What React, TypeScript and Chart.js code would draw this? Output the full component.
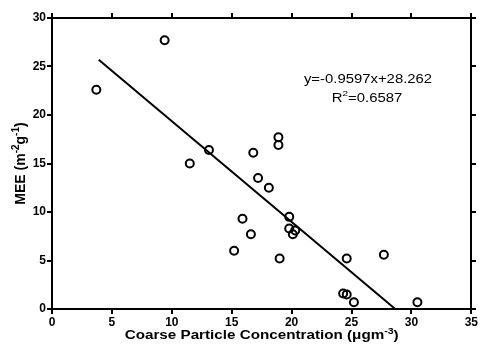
import React, { useEffect, useRef } from "react";
import { Chart, registerables } from "chart.js";

Chart.register(...registerables);

// Data
const concX: number[] = [3.7, 9.4, 11.5, 13.1, 15.2, 15.9, 16.6, 16.8, 17.2, 18.1, 18.9, 18.9, 19.0, 19.8, 19.8, 20.1, 20.3, 24.3, 24.6, 24.6, 25.2, 27.7, 30.5];
const meeY: number[] = [22.6, 27.7, 15.0, 16.4, 6.0, 9.3, 7.7, 16.1, 13.5, 12.5, 17.7, 16.9, 5.2, 9.5, 8.3, 7.7, 8.1, 1.6, 1.5, 5.2, 0.7, 5.6, 0.7];
const fitX: number[] = [3.9, 28.65];
const fitY: number[] = [25.7, 0];
const xRange = { min: 0, max: 35, step: 5 };
const yRange = { min: 0, max: 30, step: 5 };

type Seg = { t: string; sup?: boolean };
const xTitle: Seg[] = [{ t: "Coarse Particle Concentration (\u03BCgm" }, { t: "-3", sup: true }, { t: ")" }];
const yTitle: Seg[] = [{ t: "MEE (m" }, { t: "-2", sup: true }, { t: "g" }, { t: "-1", sup: true }, { t: ")" }];
const eqLine1: Seg[] = [{ t: "y=-0.9597x+28.262" }];
const eqLine2: Seg[] = [{ t: "R" }, { t: "2", sup: true }, { t: "=0.6587" }];

const FAM = '"Liberation Sans", Arial, sans-serif';

Chart.defaults.font.family = FAM;
Chart.defaults.font.size = 12;
Chart.defaults.font.weight = "bold" as any;
Chart.defaults.color = "#000";

function drawRich(
  ctx: CanvasRenderingContext2D,
  segs: Seg[],
  cx: number,
  baseline: number,
  size: number,
  weight: string,
  sx: number,
  sy: number,
  rot: number
) {
  ctx.save();
  ctx.translate(cx, baseline);
  if (rot) ctx.rotate(rot);
  ctx.scale(sx, sy);
  const fontFor = (sup?: boolean) => `${weight} ${sup ? Math.round(size * 0.68) : size}px ${FAM}`;
  let total = 0;
  segs.forEach((s) => {
    ctx.font = fontFor(s.sup);
    total += ctx.measureText(s.t).width;
  });
  let x = -total / 2;
  ctx.fillStyle = "#000";
  ctx.textAlign = "left";
  ctx.textBaseline = "alphabetic";
  segs.forEach((s) => {
    ctx.font = fontFor(s.sup);
    ctx.fillText(s.t, x, s.sup ? -size * 0.42 : 0);
    x += ctx.measureText(s.t).width;
  });
  ctx.restore();
}

const TICK_LEN = 4;

// Frame and outward tick marks, placed from the library's own scales (drawn as filled bars)
const framePlugin = {
  id: "frameTicks",
  afterDraw(chart: any) {
    const ctx = chart.ctx as CanvasRenderingContext2D;
    const a = chart.chartArea;
    const L = Math.round(a.left), R = Math.round(a.right), T = Math.round(a.top), B = Math.round(a.bottom);
    ctx.save();
    ctx.setTransform(1, 0, 0, 1, 0, 0);
    ctx.globalAlpha = 1;
    ctx.globalCompositeOperation = "source-over";
    ctx.fillStyle = "#000000";
    ctx.fillRect(L - 1, T - 1, 2, B - T + 2);
    ctx.fillRect(R - 1, T - 1, 2, B - T + 2);
    ctx.fillRect(L - 1, T - 1, R - L + 2, 2);
    ctx.fillRect(L - 1, B - 1, R - L + 2, 2);
    const sides: [string, string][] = [["x", "bottom"], ["x2", "top"], ["y", "left"], ["y2", "right"]];
    sides.forEach(([id, side]) => {
      const sc = chart.scales[id];
      if (!sc) return;
      sc.ticks.forEach((t: any) => {
        const p = Math.round(sc.getPixelForValue(t.value));
        if (side === "bottom") ctx.fillRect(p - 1, B, 2, TICK_LEN + 1);
        if (side === "top") ctx.fillRect(p - 1, T - TICK_LEN - 1, 2, TICK_LEN + 1);
        if (side === "left") ctx.fillRect(L - TICK_LEN - 1, p - 1, TICK_LEN + 1, 2);
        if (side === "right") ctx.fillRect(R, p - 1, TICK_LEN + 1, 2);
      });
    });
    ctx.restore();
  },
};

const textPlugin = {
  id: "richText",
  afterDraw(chart: any) {
    const ctx = chart.ctx as CanvasRenderingContext2D;
    const a = chart.chartArea;
    drawRich(ctx, xTitle, (a.left + a.right) / 2, 339, 13, "bold", 1.17, 1, 0);
    drawRich(ctx, yTitle, 25, (a.top + a.bottom) / 2, 14, "bold", 1, 1.1, -Math.PI / 2);
    drawRich(ctx, eqLine1, 368, 83, 12, "normal", 1.24, 1, 0);
    drawRich(ctx, eqLine2, 367, 101.5, 12, "normal", 1.24, 1, 0);
  },
};

const mkGrid = () => ({
  display: true,
  drawOnChartArea: false,
  drawTicks: true,
  tickLength: TICK_LEN,
  color: "#000",
  lineWidth: 2,
});
const mkBorder = () => ({ display: true, color: "#000", width: 2 });

export default function App() {
  const ref = useRef<HTMLCanvasElement | null>(null);
  useEffect(() => {
    if (!ref.current) return;
    const chart = new Chart(ref.current, {
      type: "scatter",
      data: {
        datasets: [
          {
            label: "MEE",
            data: concX.map((x, i) => ({ x, y: meeY[i] })),
            pointStyle: "circle",
            pointRadius: 4,
            pointBorderWidth: 2,
            borderColor: "#000",
            backgroundColor: "rgba(0,0,0,0)",
            showLine: false,
          } as any,
          {
            label: "fit",
            data: fitX.map((x, i) => ({ x, y: fitY[i] })),
            showLine: true,
            borderColor: "#000",
            borderWidth: 2,
            pointRadius: 0,
            backgroundColor: "rgba(0,0,0,0)",
          } as any,
        ],
      },
      options: {
        animation: false,
        responsive: false,
        plugins: { legend: { display: false }, tooltip: { enabled: false } },
        scales: {
          x: {
            type: "linear",
            position: "bottom",
            min: xRange.min,
            max: xRange.max,
            ticks: { stepSize: xRange.step, padding: 2, maxRotation: 0 },
            grid: mkGrid(),
            border: mkBorder(),
            afterFit: (s: any) => { s.height = 38; },
          },
          x2: {
            type: "linear",
            position: "top",
            min: xRange.min,
            max: xRange.max,
            ticks: { stepSize: xRange.step, display: false },
            grid: mkGrid(),
            border: mkBorder(),
            afterFit: (s: any) => { s.height = 18; },
          },
          y: {
            type: "linear",
            position: "left",
            min: yRange.min,
            max: yRange.max,
            ticks: { stepSize: yRange.step, padding: 2 },
            grid: mkGrid(),
            border: mkBorder(),
            afterFit: (s: any) => { s.width = 52; },
          },
          y2: {
            type: "linear",
            position: "right",
            min: yRange.min,
            max: yRange.max,
            ticks: { stepSize: yRange.step, display: false },
            grid: mkGrid(),
            border: mkBorder(),
            afterFit: (s: any) => { s.width = 7; },
          },
        },
      } as any,
      plugins: [framePlugin, textPlugin],
    });
    return () => chart.destroy();
  }, []);
  return (
    <div style={{ position: "fixed", left: 0, top: 0, width: 480, height: 347, background: "#fff" }}>
      <canvas ref={ref} width={480} height={347} style={{ display: "block" }} />
    </div>
  );
}
